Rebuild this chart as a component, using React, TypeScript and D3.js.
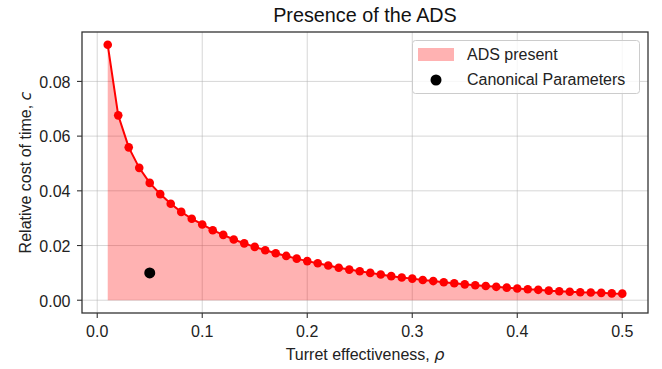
import React from "react";
import * as d3 from "d3";

// Turret effectiveness values (rho) and boundary relative cost of time (c)
const rhoValues: number[] = [
  0.01, 0.02, 0.03, 0.04, 0.05, 0.06, 0.07, 0.08, 0.09, 0.1,
  0.11, 0.12, 0.13, 0.14, 0.15, 0.16, 0.17, 0.18, 0.19, 0.2,
  0.21, 0.22, 0.23, 0.24, 0.25, 0.26, 0.27, 0.28, 0.29, 0.3,
  0.31, 0.32, 0.33, 0.34, 0.35, 0.36, 0.37, 0.38, 0.39, 0.4,
  0.41, 0.42, 0.43, 0.44, 0.45, 0.46, 0.47, 0.48, 0.49, 0.5,
];
const costValues: number[] = [
  0.0934, 0.0676, 0.0559, 0.0484, 0.0429, 0.0388, 0.0353, 0.0323, 0.0298, 0.0277,
  0.0256, 0.0239, 0.0222, 0.0208, 0.0195, 0.0183, 0.0172, 0.0162, 0.0152, 0.0143,
  0.0135, 0.0127, 0.0119, 0.0112, 0.0106, 0.0100, 0.0094, 0.0088, 0.0083, 0.0079,
  0.0074, 0.0070, 0.0066, 0.0062, 0.0058, 0.0055, 0.0052, 0.0049, 0.0046, 0.0043,
  0.0040, 0.0038, 0.0035, 0.0033, 0.0031, 0.0029, 0.0028, 0.0027, 0.0025, 0.0024,
];
const canonicalRho = 0.05;
const canonicalCost = 0.01;

const xTicks: number[] = [0, 0.1, 0.2, 0.3, 0.4, 0.5];
const yTicks: number[] = [0, 0.02, 0.04, 0.06, 0.08];

const W = 662;
const H = 369;
const plot = { left: 82, right: 648, top: 32, bottom: 313 };
const font = "'Liberation Sans', Arial, Helvetica, sans-serif";
const mathFont = "'DejaVu Sans', sans-serif";
const fs = 16;

export default function App() {
  const xMin = d3.min(rhoValues)!;
  const xMax = d3.max(rhoValues)!;
  const yMax = d3.max(costValues)!;
  const xPad = (xMax - xMin) * 0.05;
  const yPad = yMax * 0.05;

  const x = d3.scaleLinear().domain([xMin - xPad, xMax + xPad]).range([plot.left, plot.right]);
  const y = d3.scaleLinear().domain([-yPad, yMax + yPad]).range([plot.bottom, plot.top]);

  const pts = rhoValues.map((r, i) => [r, costValues[i]] as [number, number]);
  const area = d3.area<[number, number]>().x((d) => x(d[0])).y0(y(0)).y1((d) => y(d[1]))(pts)!;
  const line = d3.line<[number, number]>().x((d) => x(d[0])).y((d) => y(d[1]))(pts)!;

  const grid = "#b0b0b0";
  return (
    <svg width={W} height={H} style={{ position: "absolute", left: 0, top: 0, background: "#fff" }} fontFamily={font}>
      <rect x={0} y={0} width={W} height={H} fill="#fff" />
      {/* grid */}
      {xTicks.map((t) => (
        <line key={"gx" + t} x1={x(t)} x2={x(t)} y1={plot.top} y2={plot.bottom} stroke={grid} strokeOpacity={0.5} strokeWidth={1} />
      ))}
      {yTicks.map((t) => (
        <line key={"gy" + t} x1={plot.left} x2={plot.right} y1={y(t)} y2={y(t)} stroke={grid} strokeOpacity={0.5} strokeWidth={1} />
      ))}
      {/* shaded region */}
      <path d={area} fill="red" fillOpacity={0.3} />
      <path d={line} fill="none" stroke="red" strokeWidth={2} />
      {pts.map((d, i) => (
        <circle key={"p" + i} cx={x(d[0])} cy={y(d[1])} r={4.3} fill="red" />
      ))}
      <circle cx={x(canonicalRho)} cy={y(canonicalCost)} r={5.5} fill="black" />
      {/* frame */}
      <rect x={plot.left} y={plot.top} width={plot.right - plot.left} height={plot.bottom - plot.top} fill="none" stroke="#333" strokeWidth={1.3} />
      {/* x axis */}
      {xTicks.map((t) => (
        <g key={"xt" + t}>
          <line x1={x(t)} x2={x(t)} y1={plot.bottom} y2={plot.bottom + 5} stroke="#333" strokeWidth={1.1} />
          <text x={x(t)} y={336.5} textAnchor="middle" fontSize={fs} fill="#222">
            {t.toFixed(1)}
          </text>
        </g>
      ))}
      {/* y axis */}
      {yTicks.map((t) => (
        <g key={"yt" + t}>
          <line x1={plot.left - 5} x2={plot.left} y1={y(t)} y2={y(t)} stroke="#333" strokeWidth={1.1} />
          <text x={70.5} y={y(t) + 6.3} textAnchor="end" fontSize={fs} fill="#222">
            {t.toFixed(2)}
          </text>
        </g>
      ))}
      <text x={(plot.left + plot.right) / 2} y={360} textAnchor="middle" fontSize={fs} fill="#222">
        Turret effectiveness, <tspan fontStyle="italic" fontFamily={mathFont}>ρ</tspan>
      </text>
      <text
        transform={`translate(31,${(plot.top + plot.bottom) / 2}) rotate(-90)`}
        textAnchor="middle"
        fontSize={fs}
        fill="#222"
      >
        Relative cost of time, <tspan fontStyle="italic" fontFamily={mathFont}>c</tspan>
      </text>
      <text x={(plot.left + plot.right) / 2} y={21.7} textAnchor="middle" fontSize={19.8} fill="#111">
        Presence of the ADS
      </text>
      {/* legend */}
      <g>
        <rect x={412.5} y={40.5} width={227} height={53} rx={3} fill="#fff" fillOpacity={0.8} stroke="#ccc" strokeWidth={1} />
        <rect x={418} y={48} width={36} height={13} fill="red" fillOpacity={0.3} />
        <text x={467} y={59.5} fontSize={fs} fill="#222">ADS present</text>
        <circle cx={436} cy={80} r={5.5} fill="black" />
        <text x={467} y={85.3} fontSize={fs} fill="#222">Canonical Parameters</text>
      </g>
    </svg>
  );
}
